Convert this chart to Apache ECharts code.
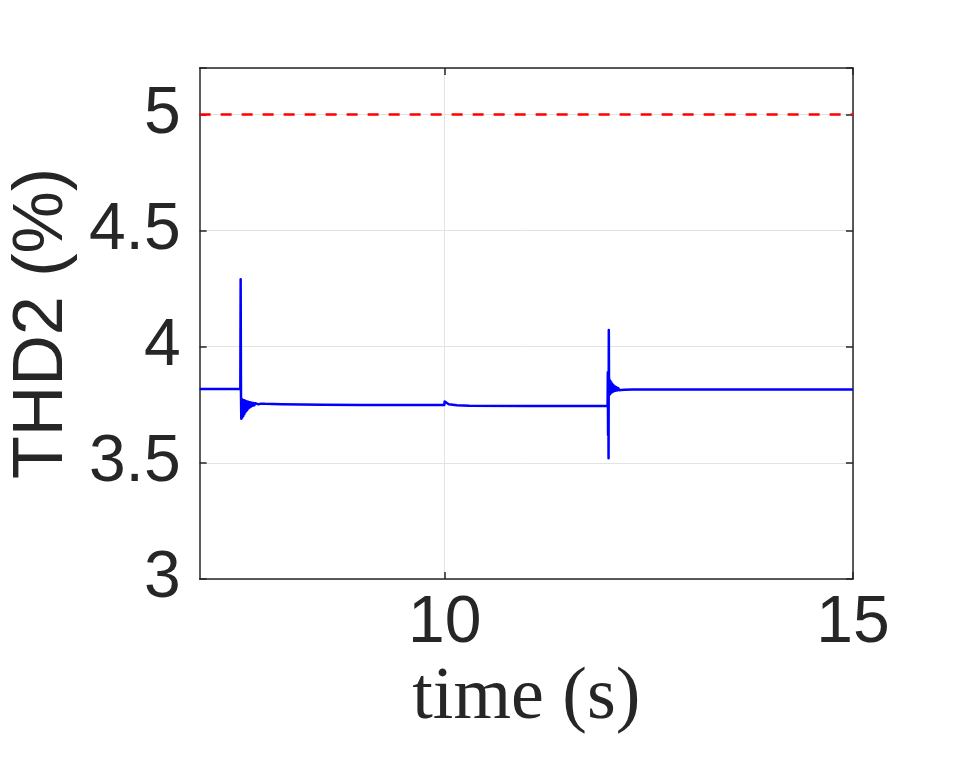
<!DOCTYPE html>
<html>
<head>
<meta charset="utf-8">
<title>THD2</title>
<script src="https://cdn.jsdelivr.net/npm/echarts@6/dist/echarts.min.js"></script>
<style>
  html, body { margin: 0; padding: 0; background: #fff; }
  #thdChart { width: 955px; height: 760px; }
</style>
</head>
<body>
<div id="thdChart"></div>
<script>
// 时间轴 (s)
const time = [
  7.000, 7.498, 7.502, 7.506, 7.510,
  7.516, 7.522, 7.528, 7.534, 7.540, 7.546, 7.552, 7.558, 7.564, 7.570,
  7.576, 7.582, 7.588, 7.594, 7.600, 7.606, 7.612, 7.618, 7.624, 7.630,
  7.640, 7.650, 7.660, 7.670, 7.680, 7.690, 7.700, 7.720, 7.750, 7.800,
  8.000, 8.500, 9.000, 9.995,
  10.000, 10.010, 10.050, 10.150, 10.300, 11.000, 11.995,
  11.998, 12.001, 12.004, 12.007, 12.010, 12.013, 12.017,
  12.023, 12.029, 12.035, 12.041, 12.047, 12.053, 12.059, 12.065, 12.071,
  12.077, 12.083, 12.089, 12.095, 12.105, 12.115, 12.125, 12.135, 12.145,
  12.160, 12.175, 12.205, 12.300, 13.000, 15.000
];
// THD2 (%)
const thd2 = [
  3.818, 3.818, 4.290, 3.800, 3.690,
  3.775, 3.695, 3.772, 3.702, 3.770, 3.710, 3.768, 3.717, 3.766, 3.723,
  3.764, 3.728, 3.763, 3.733, 3.762, 3.737, 3.761, 3.740, 3.760, 3.743,
  3.759, 3.746, 3.758, 3.748, 3.757, 3.750, 3.756, 3.752, 3.755, 3.754,
  3.752, 3.750, 3.749, 3.749,
  3.764, 3.758, 3.752, 3.748, 3.746, 3.745, 3.745,
  3.890, 3.620, 3.880, 3.520, 4.072, 3.800, 3.860,
  3.795, 3.852, 3.800, 3.846, 3.803, 3.840, 3.806, 3.835, 3.808,
  3.831, 3.810, 3.828, 3.811, 3.825, 3.812, 3.822, 3.813, 3.820,
  3.814, 3.818, 3.815, 3.816, 3.816, 3.816
];
// 限值线
const limitTime = [7, 15];
const limitValue = [5, 5];
// 刻度
const xTicks = [10, 15];
const yTicks = [3, 3.5, 4, 4.5, 5];

const tickFont = { color: '#262626', fontSize: 66, fontFamily: 'Liberation Sans, Arial, sans-serif' };
const axisColor = '#262626';
const gridColor = '#e3e3e3';

const chart = echarts.init(document.getElementById('thdChart'), null, { renderer: 'canvas' });

chart.setOption({
  animation: false,
  backgroundColor: '#fff',
  grid: { left: 197, right: 102, top: 68, bottom: 181, containLabel: false },
  xAxis: [{
    type: 'value',
    min: 7,
    max: 15,
    name: 'time (s)',
    nameLocation: 'middle',
    nameGap: 70,
    nameTextStyle: { color: '#262626', fontSize: 74, fontFamily: 'Liberation Serif, DejaVu Serif, serif' },
    axisLine: { show: true, onZero: false, lineStyle: { color: axisColor, width: 1.5 } },
    axisTick: { show: true, inside: true, length: 7, customValues: xTicks, lineStyle: { color: axisColor, width: 1.5 } },
    axisLabel: Object.assign({ margin: 12, customValues: xTicks, hideOverlap: false }, tickFont),
    splitLine: { show: true, lineStyle: { color: gridColor, width: 1 } }
  }, {
    type: 'value',
    position: 'top',
    min: 7,
    max: 15,
    axisLine: { show: true, onZero: false, lineStyle: { color: axisColor, width: 1.5 } },
    axisTick: { show: true, inside: true, length: 7, customValues: xTicks, lineStyle: { color: axisColor, width: 1.5 } },
    axisLabel: { show: false },
    splitLine: { show: false }
  }],
  yAxis: [{
    type: 'value',
    min: 3,
    max: 5.2,
    interval: 0.5,
    name: 'THD2 (%)',
    nameLocation: 'middle',
    nameRotate: 90,
    nameGap: 117,
    nameTextStyle: { color: '#262626', fontSize: 70, fontFamily: 'Liberation Sans, Arial, sans-serif' },
    axisLine: { show: true, onZero: false, lineStyle: { color: axisColor, width: 1.5 } },
    axisTick: { show: true, inside: true, length: 7, lineStyle: { color: axisColor, width: 1.5 } },
    axisLabel: Object.assign({ margin: 19, customValues: yTicks, hideOverlap: false }, tickFont),
    splitLine: { show: true, lineStyle: { color: gridColor, width: 1 } }
  }, {
    type: 'value',
    position: 'right',
    min: 3,
    max: 5.2,
    interval: 0.5,
    axisLine: { show: true, onZero: false, lineStyle: { color: axisColor, width: 1.5 } },
    axisTick: { show: true, inside: true, length: 7, lineStyle: { color: axisColor, width: 1.5 } },
    axisLabel: { show: false },
    splitLine: { show: false }
  }],
  series: [{
    name: 'limit',
    type: 'line',
    xAxisIndex: 0,
    yAxisIndex: 0,
    symbol: 'none',
    z: 3,
    lineStyle: { color: '#ff0000', width: 2.6, type: [11, 10] },
    data: limitTime.map((t, i) => [t, limitValue[i]])
  }, {
    name: 'THD2',
    type: 'line',
    xAxisIndex: 0,
    yAxisIndex: 0,
    symbol: 'none',
    z: 4,
    lineStyle: { color: '#0000ff', width: 2.5, join: 'round' },
    data: time.map((t, i) => [t, thd2[i]])
  }]
});
</script>
</body>
</html>
